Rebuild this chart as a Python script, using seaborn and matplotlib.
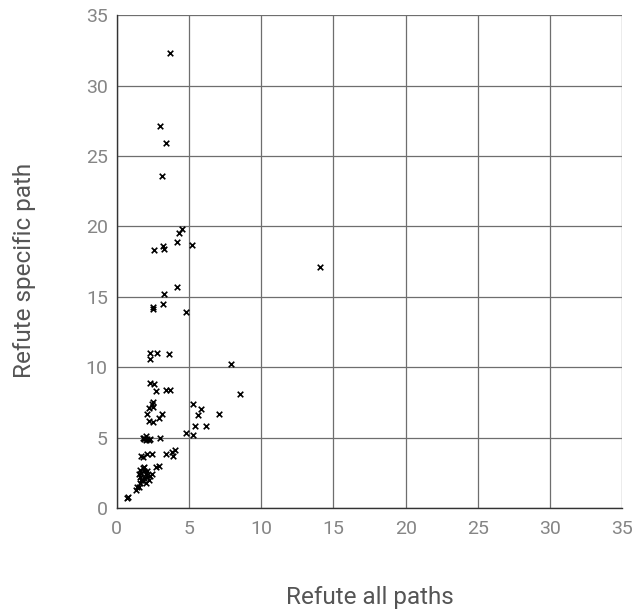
import numpy as np
import pandas as pd
import seaborn as sns
import matplotlib.pyplot as plt

# values
refute_all = [
    3.7, 3.0, 3.4, 3.1,
    4.5, 4.3, 4.2, 5.2, 2.6, 3.2, 3.3,
    14.1,
    4.2, 3.3, 3.2, 2.5, 2.5, 4.8,
    2.3, 2.8, 2.3, 3.6,
    7.9, 8.5,
    2.3, 2.6, 2.7, 3.4, 3.7,
    5.3, 2.5, 2.4, 2.5, 2.2, 5.8, 5.6, 7.1, 3.1, 2.9, 2.1, 2.2, 2.5,
    5.4, 6.2, 4.8, 5.3,
    1.8, 1.9, 2.0, 2.1, 2.2, 2.0, 2.3, 1.9, 3.0,
    1.8, 2.1, 2.4, 1.7, 3.4, 3.8, 4.0, 3.9,
    2.9, 2.7,
    1.6, 1.7, 1.8, 1.9, 2.0, 2.1, 1.6, 1.7, 1.8, 1.9, 2.0, 2.2, 2.3, 1.5, 1.9, 2.1, 1.6, 2.4,
    1.4, 1.5, 1.3, 0.8, 0.7,
]
refute_specific = [
    32.3, 27.1, 25.9, 23.6,
    19.8, 19.5, 18.9, 18.7, 18.3, 18.6, 18.4,
    17.1,
    15.7, 15.2, 14.5, 14.3, 14.1, 13.9,
    11.0, 11.0, 10.6, 10.9,
    10.2, 8.1,
    8.9, 8.8, 8.3, 8.4, 8.4,
    7.4, 7.5, 7.4, 7.2, 7.1, 7.0, 6.6, 6.7, 6.7, 6.4, 6.7, 6.2, 6.1,
    5.8, 5.8, 5.3, 5.2,
    5.0, 4.9, 5.1, 4.9, 4.8, 4.8, 4.9, 5.0, 5.0,
    3.6, 3.8, 3.8, 3.7, 3.8, 4.0, 4.1, 3.7,
    3.0, 2.9,
    2.7, 2.5, 2.8, 2.6, 2.4, 2.2, 2.2, 2.0, 1.9, 2.1, 1.8, 2.0, 2.3, 2.4, 2.9, 2.6, 1.8, 2.4,
    1.5, 1.5, 1.3, 0.8, 0.7,
]

df = pd.DataFrame({'Refute all paths': refute_all, 'Refute specific path': refute_specific})

sns.set_style('white')
plt.rcParams['font.family'] = ['Roboto', 'DejaVu Sans']

fig = plt.figure(figsize=(6.35, 6.09), dpi=100)
ax = fig.add_axes([0.184, 0.166, 0.796, 0.809])

sns.scatterplot(data=df, x='Refute all paths', y='Refute specific path', marker='x',
                color='black', s=16, linewidth=1.2, ax=ax, zorder=3)

ax.set_xlim(0, 35)
ax.set_ylim(0, 35)
ticks = [0, 5, 10, 15, 20, 25, 30, 35]
ax.set_xticks(ticks)
ax.set_yticks(ticks)
ax.grid(True, color='#6e6e6e', linewidth=0.9)
for side in ['top', 'right']:
    ax.spines[side].set_visible(False)
for side in ['left', 'bottom']:
    ax.spines[side].set_color('#333333')
    ax.spines[side].set_linewidth(1.0)

ax.tick_params(axis='both', length=0, labelsize=14, labelcolor='#858585')
ax.tick_params(axis='x', pad=9)
ax.tick_params(axis='y', pad=6.5)
ax.set_xlabel('Refute all paths', fontsize=17.5, color='#555555')
ax.set_ylabel('Refute specific path', fontsize=17.5, color='#555555')
ax.xaxis.set_label_coords(0.5, -0.158)
ax.yaxis.set_label_coords(-0.16, 0.483)

fig.savefig('out.png', dpi=100)
